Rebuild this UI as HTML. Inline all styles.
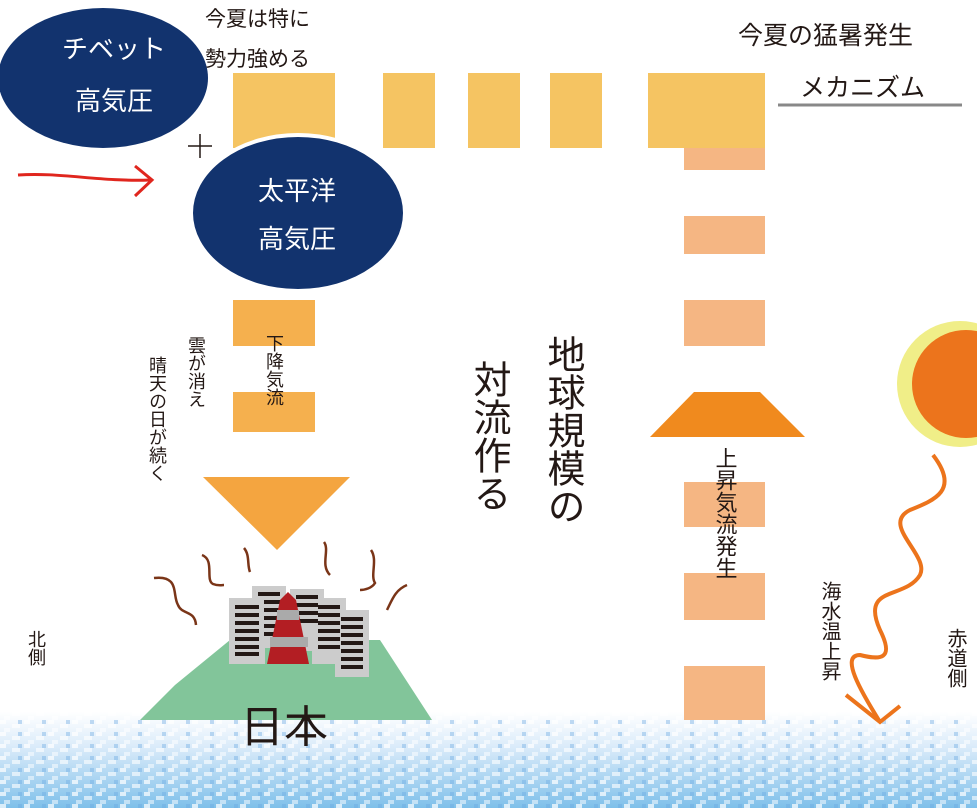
<!DOCTYPE html>
<html><head><meta charset="utf-8"><style>
html,body{margin:0;padding:0;background:#fff;}
svg{display:block;}
text{font-family:"Liberation Sans","Noto Sans CJK JP",sans-serif;fill:#231815;}
</style></head><body>
<svg width="977" height="808" viewBox="0 0 977 808" xmlns="http://www.w3.org/2000/svg">
<defs>
<linearGradient id="sea" x1="0" y1="0" x2="0" y2="1">
<stop offset="0" stop-color="#ffffff"/>
<stop offset="0.35" stop-color="#dcecfa"/>
<stop offset="1" stop-color="#7fc0ea"/>
</linearGradient>
<pattern id="noise" width="24" height="12" patternUnits="userSpaceOnUse">
<rect x="0" y="0" width="6" height="4" fill="#fff" opacity="0.7"/>
<rect x="12" y="4" width="8" height="4" fill="#fff" opacity="0.6"/>
<rect x="4" y="8" width="6" height="4" fill="#fff" opacity="0.5"/>
<rect x="18" y="0" width="4" height="4" fill="#6aa8e0" opacity="0.4"/>
</pattern>
</defs>

<rect x="0" y="712" width="977" height="96" fill="url(#sea)"/>
<rect x="0" y="712" width="977" height="96" fill="url(#noise)"/>

<g fill="#f5c462">
<rect x="233" y="73" width="102" height="75"/>
<rect x="383" y="73" width="52" height="75"/>
<rect x="468" y="73" width="52" height="75"/>
<rect x="550" y="73" width="52" height="75"/>
<rect x="648" y="73" width="117" height="75"/>
</g>
<g fill="#f5b683">
<rect x="684" y="148" width="81" height="22"/>
<rect x="684" y="216" width="81" height="38"/>
<rect x="684" y="300" width="81" height="46"/>
<rect x="684" y="482" width="81" height="45"/>
<rect x="684" y="573" width="81" height="47"/>
<rect x="684" y="666" width="81" height="54"/>
</g>
<polygon points="694,392 760,392 805,437 650,437" fill="#f08a1e"/>

<circle cx="960" cy="384" r="63" fill="#f0ee88"/>
<circle cx="966" cy="384" r="54" fill="#ec741c"/>
<path d="M933,455 C960,490 935,500 910,510 C880,525 930,555 920,575 C905,600 860,585 880,630 C895,660 880,660 860,655 C840,655 860,690 880,722" fill="none" stroke="#ec741c" stroke-width="4"/>
<path d="M846,695 L880,722 L900,706" fill="none" stroke="#ec741c" stroke-width="4"/>

<g fill="#f5b04e">
<rect x="233" y="300" width="82" height="46"/>
<rect x="233" y="392" width="82" height="40"/>
</g>
<polygon points="203,477 350,477 277,550" fill="#f4a540"/>

<ellipse cx="103" cy="78" rx="105" ry="70" fill="#12336e"/>
<ellipse cx="298" cy="213" rx="107" ry="78" fill="#12336e" stroke="#fff" stroke-width="4"/>
<text x="62" y="58" font-size="26" style="fill:#fff">チベット</text>
<text x="75" y="110" font-size="26" style="fill:#fff">高気圧</text>
<text x="258" y="200" font-size="26" style="fill:#fff">太平洋</text>
<text x="258" y="248" font-size="26" style="fill:#fff">高気圧</text>
<path d="M188,146 H212 M200,134 V158" stroke="#231815" stroke-width="1.5"/>

<path d="M18,175 C60,172 100,182 150,180" fill="none" stroke="#e0261e" stroke-width="3"/>
<path d="M135,166 L152,180 L135,196" fill="none" stroke="#e0261e" stroke-width="3"/>

<polygon points="140,720 175,685 230,640 380,640 432,720" fill="#82c59a"/>
<g fill="none" stroke="#7a3518" stroke-width="2.5">
<path d="M154,578 C180,575 172,595 178,605 C182,615 195,610 196,625"/>
<path d="M202,555 C215,560 205,580 213,584 C218,586 222,585 224,585"/>
<path d="M244,548 C250,555 247,565 250,572"/>
<path d="M324,542 C330,550 320,565 330,575"/>
<path d="M371,550 C378,560 370,575 375,583 C372,588 365,590 360,590"/>
<path d="M407,585 C395,590 392,600 387,610"/>
</g>
<g>
<rect x="252" y="586" width="34" height="62" fill="#cccccc"/>
<rect x="290" y="589" width="34" height="62" fill="#cccccc"/>
<rect x="229" y="598" width="36" height="66" fill="#cccccc"/>
<rect x="312" y="598" width="34" height="66" fill="#cccccc"/>
<rect x="335" y="610" width="34" height="67" fill="#cccccc"/>
<g fill="#231815">
<rect x="258" y="592" width="22" height="4"/><rect x="264" y="600" width="16" height="4"/><rect x="264" y="608" width="16" height="4"/><rect x="264" y="616" width="16" height="4"/><rect x="264" y="624" width="16" height="4"/><rect x="264" y="632" width="16" height="4"/>
<rect x="296" y="595" width="22" height="4"/><rect x="296" y="603" width="22" height="4"/><rect x="296" y="611" width="22" height="4"/><rect x="296" y="619" width="22" height="4"/>
<rect x="235" y="605" width="24" height="4"/><rect x="235" y="613" width="24" height="4"/><rect x="235" y="621" width="24" height="4"/><rect x="235" y="629" width="24" height="4"/><rect x="235" y="637" width="24" height="4"/><rect x="235" y="645" width="24" height="4"/><rect x="235" y="652" width="24" height="4"/>
<rect x="318" y="605" width="22" height="4"/><rect x="318" y="613" width="22" height="4"/><rect x="318" y="621" width="22" height="4"/><rect x="318" y="629" width="22" height="4"/><rect x="318" y="637" width="22" height="4"/><rect x="318" y="645" width="22" height="4"/>
<rect x="341" y="617" width="22" height="4"/><rect x="341" y="625" width="22" height="4"/><rect x="341" y="633" width="22" height="4"/><rect x="341" y="641" width="22" height="4"/><rect x="341" y="649" width="22" height="4"/><rect x="341" y="657" width="22" height="4"/><rect x="341" y="665" width="22" height="4"/>
</g>
<polygon points="288,592 296,600 309,664 267,664 280,600" fill="#b31e23"/>
<rect x="277" y="610" width="22" height="10" fill="#aaaaaa"/>
<rect x="270" y="637" width="38" height="10" fill="#aaaaaa"/>
</g>
<text x="240" y="742" font-size="44">日本</text>

<text x="205" y="26" font-size="21">今夏は特に</text>
<text x="205" y="66" font-size="21">勢力強める</text>
<text x="738" y="44" font-size="25">今夏の猛暑発生</text>
<text x="800" y="96" font-size="25">メカニズム</text>
<line x1="778" y1="105" x2="962" y2="105" stroke="#888" stroke-width="3"/>

<g font-size="18">
<text x="274" y="334" style="writing-mode:vertical-rl">下降気流</text>
<text x="196" y="336" style="writing-mode:vertical-rl">雲が消え</text>
<text x="157" y="356" style="writing-mode:vertical-rl">晴天の日が続く</text>
<text x="36" y="630" style="writing-mode:vertical-rl">北側</text>
<text x="725" y="447" font-size="22" style="writing-mode:vertical-rl">上昇気流発生</text>
<text x="829" y="581" font-size="20" style="writing-mode:vertical-rl">海水温上昇</text>
<text x="955" y="628" font-size="20" style="writing-mode:vertical-rl">赤道側</text>
</g>
<text x="562" y="335" font-size="38" style="writing-mode:vertical-rl">地球規模の</text>
<text x="488" y="360" font-size="38" style="writing-mode:vertical-rl">対流作る</text>
</svg>
</body></html>
